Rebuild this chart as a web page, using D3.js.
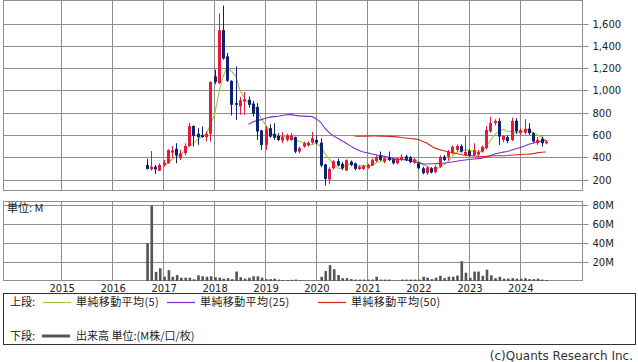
<!DOCTYPE html>
<html><head><meta charset="utf-8">
<script src="https://cdn.jsdelivr.net/npm/d3@7/dist/d3.min.js"></script>
<style>body{margin:0;background:#fff}svg{display:block}</style>
</head><body>
<svg id="c" width="638" height="362"></svg>
<script>
// ---- data (monthly candles, first month Sep 2016) ----
const firstMonth = [2016, 8];
const open  = [335,296,320,283,335,350,445,480,395,440,505,684,615,605,585,615,1130,1070,1545,1310,1090,890,860,905,920,885,855,645,515,665,615,595,555,560,560,585,455,500,510,535,560,535,340,205,305,370,345,285,365,350,298,300,310,330,370,420,365,405,385,350,380,412,405,355,350,305,262,305,270,320,408,410,440,470,505,425,460,425,428,455,485,635,710,730,560,585,560,732,620,625,660,620,530,570,530];
const high  = [390,460,335,350,380,475,505,530,470,530,714,690,665,680,635,1085,1190,1695,1765,1340,1095,1220,945,990,950,910,890,650,680,700,710,620,630,615,620,590,500,545,545,630,600,575,345,315,380,390,360,385,375,355,330,335,345,395,420,455,400,455,395,400,430,425,415,395,360,320,325,315,330,420,425,470,510,520,520,595,475,530,470,510,685,768,745,755,600,600,760,755,665,745,710,630,585,590,560];
const low   = [295,285,255,280,320,345,400,350,380,420,500,500,515,580,545,545,1060,1060,1280,1080,780,740,785,785,850,770,560,470,470,580,560,550,530,545,550,440,440,490,500,525,520,315,150,160,295,320,290,280,325,285,290,290,300,325,360,370,350,370,340,340,370,370,350,345,295,250,245,258,260,310,370,375,430,455,445,415,410,415,415,445,475,625,690,515,540,530,550,615,605,610,605,535,515,500,520];
const close = [300,319,296,334,355,469,465,420,440,505,684,595,585,585,615,1080,1080,1545,1290,1090,875,875,915,925,875,795,635,515,655,590,580,560,585,600,600,455,485,530,535,575,535,330,210,300,368,330,305,378,335,300,318,325,335,378,408,380,395,380,350,395,408,382,360,385,305,262,312,268,318,408,380,452,498,505,455,452,420,468,452,498,648,712,730,590,595,550,730,635,648,660,620,545,560,530,545];
const volume = [40,80,9.7,13.5,4.5,11.5,4.5,6.3,3.5,3.5,3.5,1.8,6,5,4.5,5,4,3.5,2.5,3,2,10,4,2.5,3.5,5,5,3.5,2,2,2.5,1.5,1,1,1.2,1.5,1,0.5,0.5,0.5,0.5,4.5,10.5,16.8,12.6,6.3,3,3,2,1.5,1.5,1.5,1.5,1.5,4.5,1.5,1.5,1.5,0.5,0.5,1.5,1.5,1.5,1.5,1.5,4.5,3.5,2,3.5,5.5,3,4.5,4.5,5.8,21,8.8,3.5,10,10,5.5,12,6,3,4.5,2.5,2.5,3,2.5,2.5,3,2,2,2.5,1.5,1];
const priceTicks = [200,400,600,800,1000,1200,1400,1600];
const volumeTicks = [20,40,60,80];
const yearTicks = [2015,2016,2017,2018,2019,2020,2021,2022,2023,2024];
const maPeriods = [5,25,50];
const maNames = ["単純移動平均(5)","単純移動平均(25)","単純移動平均(50)"];
const maColors = ["#a3c43a","#7d2ad4","#cf2a1c"];

// ---- setup ----
const svg = d3.select("#c");
const L = 3, R = 582.5;
const topP = {y0: 0.5, y1: 190.5};
const volP = {y0: 201.5, y1: 280.5};
const gridColor = "#8e8e8e";
const upColor = "#e8173c", downColor = "#0d2272";

const months = open.map((_, i) => new Date(firstMonth[0], firstMonth[1] + i, 1));
const x = d3.scaleTime().domain([new Date(2015,0,1), new Date(2024,0,1)]).range([61.7, 520.3]);
const y = d3.scaleLinear().domain([200,1600]).range([180, 24]);
const yv = d3.scaleLinear().domain([0,80]).range([281, 205.6]);
const px = v => Math.floor(v) + 0.5;

svg.append("rect").attr("width",638).attr("height",362).attr("fill","#fff");

// grids
function panel(p, yTicks, ys) {
  const g = svg.append("g");
  g.selectAll("line.v").data(yearTicks).join("line")
    .attr("x1", d => px(x(new Date(d,0,1)))).attr("x2", d => px(x(new Date(d,0,1))))
    .attr("y1", p.y0).attr("y2", p.y1).attr("stroke", gridColor);
  g.selectAll("line.h").data(yTicks).join("line")
    .attr("x1", L).attr("x2", R).attr("y1", d => px(ys(d))).attr("y2", d => px(ys(d)))
    .attr("stroke", gridColor);
  g.append("rect").attr("x", L + 0.5).attr("y", p.y0).attr("width", R - L - 0.5).attr("height", p.y1 - p.y0)
    .attr("fill","none").attr("stroke", gridColor);
}
panel(topP, priceTicks, y);
panel(volP, volumeTicks, yv);

// right axes
const fontAx = "DejaVu Sans";
const axP = svg.append("g").attr("transform", `translate(${R},0)`)
  .call(d3.axisRight(y).tickValues(priceTicks).tickFormat(d3.format(",")).tickSize(6).tickPadding(4));
const axV = svg.append("g").attr("transform", `translate(${R},0)`)
  .call(d3.axisRight(yv).tickValues(volumeTicks).tickFormat(d => d + "M").tickSize(6).tickPadding(4));
[axP, axV].forEach(a => {
  a.select(".domain").remove();
  a.selectAll(".tick line").attr("stroke", gridColor);
  a.selectAll(".tick text").attr("font-family", fontAx).attr("font-size", 10).attr("fill", "#222");
});
axP.selectAll(".tick").attr("transform", d => `translate(0,${px(y(d))})`);
axV.selectAll(".tick").attr("transform", d => `translate(0,${px(yv(d))})`);

// year labels
const axX = svg.append("g").attr("transform", `translate(0,${volP.y1})`)
  .call(d3.axisBottom(x).tickValues(yearTicks.map(d => new Date(d,0,1))).tickFormat(d3.timeFormat("%Y")).tickSize(0).tickPadding(3));
axX.select(".domain").remove();
axX.selectAll(".tick text").attr("font-family", fontAx).attr("font-size", 10).attr("fill", "#222").attr("dy", "0.8em");

// clip for plot area
svg.append("clipPath").attr("id","clipTop").append("rect").attr("x",L).attr("y",topP.y0).attr("width",R-L).attr("height",topP.y1-topP.y0);

// moving averages (of the monthly closes)
const plot = svg.append("g").attr("clip-path","url(#clipTop)");
maPeriods.forEach((n, k) => {
  const ma = close.map((c, i) => i < n - 1 ? null : d3.mean(close.slice(i - n + 1, i + 1)));
  const line = d3.line().defined(d => d != null).x((d, i) => x(months[i])).y(d => y(d));
  plot.append("path").datum(ma).attr("d", line).attr("fill","none").attr("stroke", maColors[k]).attr("stroke-width", 1.1);
});

// candles
const cg = plot.append("g");
months.forEach((m, i) => {
  const cx = Math.round(x(m));
  const up = close[i] >= open[i];
  const col = up ? upColor : downColor;
  cg.append("line").attr("x1", cx + 0.5).attr("x2", cx + 0.5).attr("y1", y(high[i])).attr("y2", y(low[i]))
    .attr("stroke", col).attr("stroke-width", 1);
  const yt = y(Math.max(open[i], close[i])), yb = y(Math.min(open[i], close[i]));
  cg.append("rect").attr("x", cx - 1).attr("width", 3).attr("y", yt).attr("height", Math.max(1, yb - yt)).attr("fill", col);
});

// volume bars
svg.append("g").selectAll("rect").data(volume).join("rect")
  .attr("x", (d, i) => x(months[i]) - 0.4).attr("width", 2.6)
  .attr("y", d => yv(d)).attr("height", d => yv(0) - yv(d)).attr("fill", "#555");

const cjk = "'Noto Sans CJK JP', sans-serif";
svg.append("text").attr("x", 7).attr("y", 212).attr("font-family", cjk).attr("font-size", 11).attr("fill","#222").text("単位: M");

// legend
svg.append("rect").attr("x", 3.5).attr("y", 293.5).attr("width", 632).attr("height", 51).attr("fill","none").attr("stroke","#333");
svg.append("text").attr("x", 10).attr("y", 306).attr("font-family", cjk).attr("font-size", 11).attr("fill","#222").text("上段:");
const legX = [43, 167, 318];
maNames.forEach((nm, k) => {
  svg.append("line").attr("x1", legX[k]).attr("x2", legX[k] + 28).attr("y1", 302.5).attr("y2", 302.5).attr("stroke", maColors[k]).attr("stroke-width", 1.2);
  svg.append("text").attr("x", legX[k] + 33).attr("y", 306).attr("font-family", cjk).attr("font-size", 11)
    .attr("letter-spacing", 0.4).attr("fill","#222").text(nm);
});
svg.append("text").attr("x", 10).attr("y", 340).attr("font-family", cjk).attr("font-size", 11).attr("fill","#222").text("下段:");
svg.append("line").attr("x1", 42).attr("x2", 70).attr("y1", 336).attr("y2", 336).attr("stroke", "#555").attr("stroke-width", 3);
svg.append("text").attr("x", 76).attr("y", 340).attr("font-family", cjk).attr("font-size", 11).attr("fill","#222").text("出来高 単位:(M株/口/枚)");

svg.append("text").attr("x", 633).attr("y", 360).attr("text-anchor","end").attr("font-family", fontAx).attr("font-size", 12).attr("fill","#333").text("(c)Quants Research Inc.");
</script>
</body></html>
